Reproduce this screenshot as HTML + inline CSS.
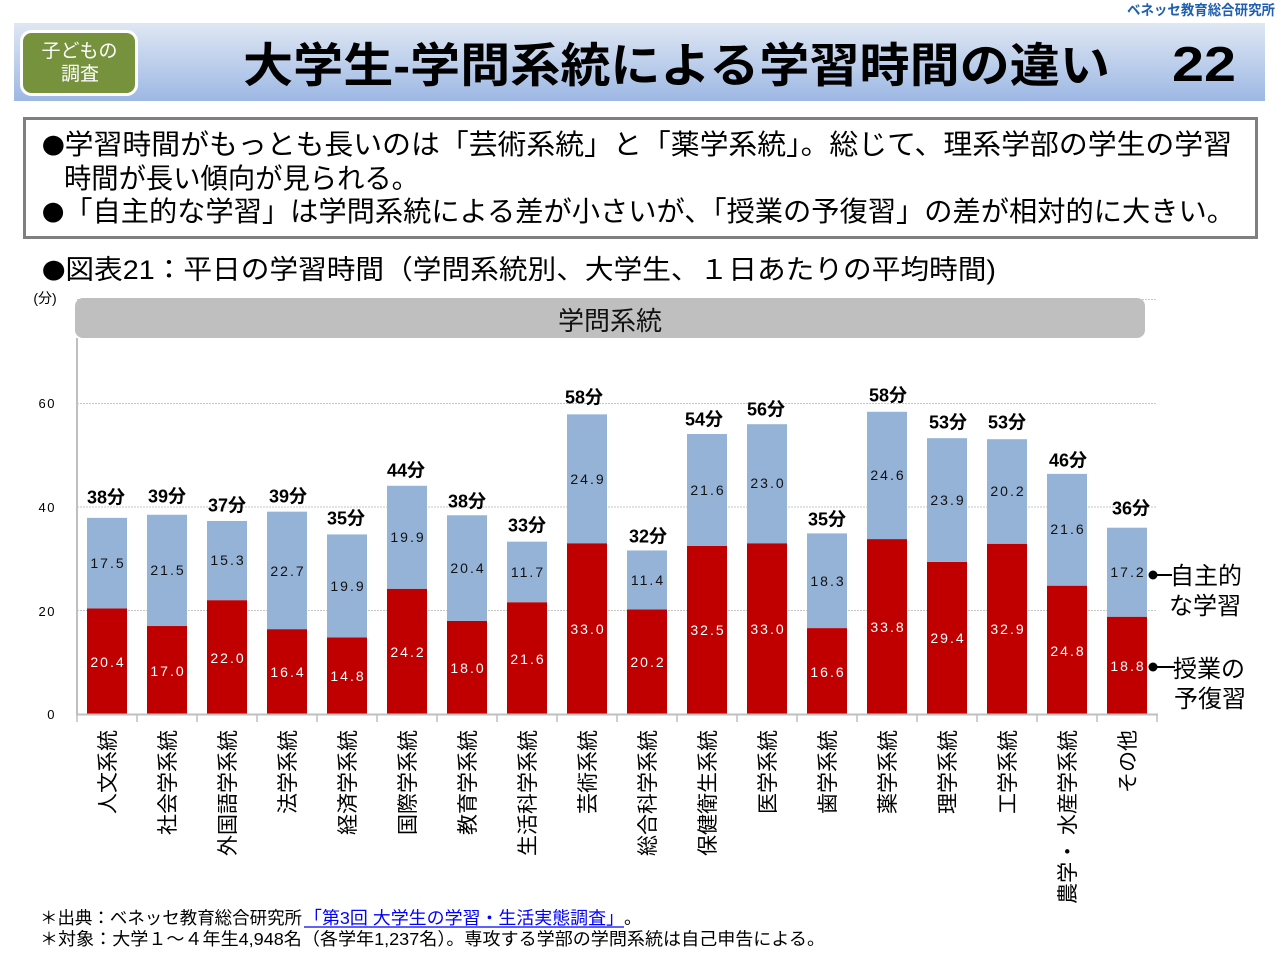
<!DOCTYPE html>
<html>
<head>
<meta charset="utf-8">
<style>
html,body{margin:0;padding:0;background:#fff;}
svg{display:block;}
.jp{font-family:"Liberation Sans","Noto Sans CJK JP",sans-serif;}
.bl{font-family:"Noto Sans CJK JP",sans-serif;font-size:22px;}
.num{font-family:"Liberation Sans","DejaVu Sans",sans-serif;font-size:14px;letter-spacing:2px;}
.tot{font-family:"Liberation Sans","Noto Sans CJK JP",sans-serif;font-size:18px;font-weight:bold;}
.xl{font-family:"Liberation Sans","Noto Sans CJK JP",sans-serif;font-size:21px;}
</style>
</head>
<body>
<svg width="1280" height="960" viewBox="0 0 1280 960" xmlns="http://www.w3.org/2000/svg">
<defs>
<linearGradient id="hg" x1="0" y1="0" x2="0" y2="1">
<stop offset="0" stop-color="#dfe7f3"/>
<stop offset="1" stop-color="#9db8e4"/>
</linearGradient>
</defs>

<!-- header -->
<text class="jp" x="1127" y="15" font-size="14" font-weight="bold" fill="#1f5fb0" textLength="148" lengthAdjust="spacingAndGlyphs">ベネッセ教育総合研究所</text>
<rect x="14" y="23" width="1251" height="78" fill="url(#hg)"/>
<rect x="21.5" y="31.5" width="115" height="63" rx="10" ry="10" fill="#76923c" stroke="#ffffff" stroke-width="3"/>
<text class="jp" x="79.5" y="57" font-size="19" fill="#fff" text-anchor="middle">子どもの</text>
<text class="jp" x="80" y="80" font-size="19" fill="#fff" text-anchor="middle">調査</text>
<text class="jp" x="243" y="82" font-size="47" font-weight="bold" fill="#000" textLength="867" lengthAdjust="spacingAndGlyphs">大学生-学問系統による学習時間の違い</text>
<text x="1172" y="81" font-family="Liberation Sans, sans-serif" font-size="49" font-weight="bold" fill="#000" textLength="64" lengthAdjust="spacingAndGlyphs">22</text>

<!-- summary box -->
<rect x="24.5" y="118.5" width="1232" height="119" fill="#fff" stroke="#7f7f7f" stroke-width="3"/>
<text class="jp" x="42" y="154" font-size="28" fill="#000" textLength="1190" lengthAdjust="spacingAndGlyphs"><tspan class="bl">●</tspan>学習時間がもっとも長いのは「芸術系統」と「薬学系統」。総じて、理系学部の学生の学習</text>
<text class="jp" x="64" y="188" font-size="28" fill="#000" textLength="355" lengthAdjust="spacingAndGlyphs">時間が長い傾向が見られる。</text>
<text class="jp" x="42" y="221" font-size="28" fill="#000" textLength="1193" lengthAdjust="spacingAndGlyphs"><tspan class="bl">●</tspan>「自主的な学習」は学問系統による差が小さいが、「授業の予復習」の差が相対的に大きい。</text>

<!-- chart title -->
<text class="jp" x="42" y="279" font-size="27" fill="#000" textLength="954" lengthAdjust="spacingAndGlyphs"><tspan class="bl">●</tspan>図表21：平日の学習時間（学問系統別、大学生、１日あたりの平均時間)</text>

<!-- chart -->
<text class="jp" x="45" y="303" font-size="14" fill="#000" text-anchor="middle">(分)</text>
<g stroke="#c6c6c6" stroke-width="1" stroke-dasharray="2,1">
<line x1="77" y1="299.5" x2="1157" y2="299.5"/>
<line x1="77" y1="403.5" x2="1157" y2="403.5"/>
<line x1="77" y1="507" x2="1157" y2="507"/>
<line x1="77" y1="610.5" x2="1157" y2="610.5"/>
</g>
<g font-family="Liberation Sans, sans-serif" font-size="13" fill="#000" text-anchor="end" letter-spacing="1.5">
<text x="56" y="408">60</text>
<text x="56" y="512">40</text>
<text x="56" y="616">20</text>
<text x="56" y="719">0</text>
</g>
<rect x="75" y="298" width="1070" height="40" rx="8" ry="8" fill="#bfbfbf"/>
<text class="jp" x="610" y="330" font-size="26" fill="#111" text-anchor="middle">学問系統</text>

<!-- bars -->
<g>
<rect x="87" y="608.43" width="40" height="105.57" fill="#c00000"/><rect x="87" y="517.87" width="40" height="90.56" fill="#95b3d7"/>
<rect x="147" y="626.02" width="40" height="87.98" fill="#c00000"/><rect x="147" y="514.76" width="40" height="111.26" fill="#95b3d7"/>
<rect x="207" y="600.15" width="40" height="113.85" fill="#c00000"/><rect x="207" y="520.97" width="40" height="79.18" fill="#95b3d7"/>
<rect x="267" y="629.13" width="40" height="84.87" fill="#c00000"/><rect x="267" y="511.66" width="40" height="117.47" fill="#95b3d7"/>
<rect x="327" y="637.41" width="40" height="76.59" fill="#c00000"/><rect x="327" y="534.43" width="40" height="102.98" fill="#95b3d7"/>
<rect x="387" y="588.76" width="40" height="125.24" fill="#c00000"/><rect x="387" y="485.78" width="40" height="102.98" fill="#95b3d7"/>
<rect x="447" y="620.85" width="40" height="93.15" fill="#c00000"/><rect x="447" y="515.28" width="40" height="105.57" fill="#95b3d7"/>
<rect x="507" y="602.22" width="40" height="111.78" fill="#c00000"/><rect x="507" y="541.67" width="40" height="60.55" fill="#95b3d7"/>
<rect x="567" y="543.22" width="40" height="170.78" fill="#c00000"/><rect x="567" y="414.36" width="40" height="128.86" fill="#95b3d7"/>
<rect x="627" y="609.46" width="40" height="104.54" fill="#c00000"/><rect x="627" y="550.46" width="40" height="59" fill="#95b3d7"/>
<rect x="687" y="545.81" width="40" height="168.19" fill="#c00000"/><rect x="687" y="434.03" width="40" height="111.78" fill="#95b3d7"/>
<rect x="747" y="543.22" width="40" height="170.78" fill="#c00000"/><rect x="747" y="424.2" width="40" height="119.03" fill="#95b3d7"/>
<rect x="807" y="628.09" width="40" height="85.91" fill="#c00000"/><rect x="807" y="533.39" width="40" height="94.7" fill="#95b3d7"/>
<rect x="867" y="539.08" width="40" height="174.92" fill="#c00000"/><rect x="867" y="411.77" width="40" height="127.31" fill="#95b3d7"/>
<rect x="927" y="561.85" width="40" height="152.15" fill="#c00000"/><rect x="927" y="438.17" width="40" height="123.68" fill="#95b3d7"/>
<rect x="987" y="543.74" width="40" height="170.26" fill="#c00000"/><rect x="987" y="439.2" width="40" height="104.54" fill="#95b3d7"/>
<rect x="1047" y="585.66" width="40" height="128.34" fill="#c00000"/><rect x="1047" y="473.88" width="40" height="111.78" fill="#95b3d7"/>
<rect x="1107" y="616.71" width="40" height="97.29" fill="#c00000"/><rect x="1107" y="527.7" width="40" height="89.01" fill="#95b3d7"/>
</g>

<!-- axes -->
<line x1="77" y1="338" x2="77" y2="715" stroke="#bfbfbf" stroke-width="2"/>
<line x1="76" y1="714.5" x2="1158" y2="714.5" stroke="#bfbfbf" stroke-width="2"/>
<g stroke="#bfbfbf" stroke-width="1.5">
<line x1="77" y1="714" x2="77" y2="722"/><line x1="137" y1="714" x2="137" y2="722"/><line x1="197" y1="714" x2="197" y2="722"/>
<line x1="257" y1="714" x2="257" y2="722"/><line x1="317" y1="714" x2="317" y2="722"/><line x1="377" y1="714" x2="377" y2="722"/>
<line x1="437" y1="714" x2="437" y2="722"/><line x1="497" y1="714" x2="497" y2="722"/><line x1="557" y1="714" x2="557" y2="722"/>
<line x1="617" y1="714" x2="617" y2="722"/><line x1="677" y1="714" x2="677" y2="722"/><line x1="737" y1="714" x2="737" y2="722"/>
<line x1="797" y1="714" x2="797" y2="722"/><line x1="857" y1="714" x2="857" y2="722"/><line x1="917" y1="714" x2="917" y2="722"/>
<line x1="977" y1="714" x2="977" y2="722"/><line x1="1037" y1="714" x2="1037" y2="722"/><line x1="1097" y1="714" x2="1097" y2="722"/>
<line x1="1157" y1="714" x2="1157" y2="722"/>
</g>

<!-- value labels: blue (dark) -->
<g class="num" fill="#111" text-anchor="middle">
<text x="108" y="568">17.5</text>
<text x="168" y="575">21.5</text>
<text x="228" y="565">15.3</text>
<text x="288" y="576">22.7</text>
<text x="348" y="591">19.9</text>
<text x="408" y="542">19.9</text>
<text x="468" y="573">20.4</text>
<text x="528" y="577">11.7</text>
<text x="588" y="484">24.9</text>
<text x="648" y="585">11.4</text>
<text x="708" y="495">21.6</text>
<text x="768" y="488">23.0</text>
<text x="828" y="586">18.3</text>
<text x="888" y="480">24.6</text>
<text x="948" y="505">23.9</text>
<text x="1008" y="496">20.2</text>
<text x="1068" y="534">21.6</text>
<text x="1128" y="577">17.2</text>
</g>
<!-- value labels: red (white) -->
<g class="num" fill="#fff" text-anchor="middle">
<text x="108" y="667">20.4</text>
<text x="168" y="676">17.0</text>
<text x="228" y="663">22.0</text>
<text x="288" y="677">16.4</text>
<text x="348" y="681">14.8</text>
<text x="408" y="657">24.2</text>
<text x="468" y="673">18.0</text>
<text x="528" y="664">21.6</text>
<text x="588" y="634">33.0</text>
<text x="648" y="667">20.2</text>
<text x="708" y="635">32.5</text>
<text x="768" y="634">33.0</text>
<text x="828" y="677">16.6</text>
<text x="888" y="632">33.8</text>
<text x="948" y="643">29.4</text>
<text x="1008" y="634">32.9</text>
<text x="1068" y="656">24.8</text>
<text x="1128" y="671">18.8</text>
</g>

<!-- totals -->
<g class="tot" fill="#000" text-anchor="middle">
<text x="106" y="503.5">38分</text>
<text x="167" y="502.5">39分</text>
<text x="227" y="511.5">37分</text>
<text x="288" y="502.5">39分</text>
<text x="346" y="524.5">35分</text>
<text x="406" y="476.5">44分</text>
<text x="467" y="507.5">38分</text>
<text x="527" y="531.5">33分</text>
<text x="584" y="403.5">58分</text>
<text x="648" y="542.5">32分</text>
<text x="704" y="425.5">54分</text>
<text x="766" y="415.5">56分</text>
<text x="827" y="525.5">35分</text>
<text x="888" y="401.5">58分</text>
<text x="948" y="428.5">53分</text>
<text x="1007" y="428.5">53分</text>
<text x="1068" y="466.5">46分</text>
<text x="1131" y="514.5">36分</text>
</g>

<!-- legend -->
<circle cx="1153" cy="575" r="4.5" fill="#000"/>
<line x1="1153" y1="575" x2="1172" y2="575" stroke="#000" stroke-width="2"/>
<text class="jp" x="1170" y="584" font-size="24" fill="#000">自主的</text>
<text class="jp" x="1169" y="614" font-size="24" fill="#000">な学習</text>
<circle cx="1153" cy="667" r="4.5" fill="#000"/>
<line x1="1153" y1="667" x2="1175" y2="667" stroke="#000" stroke-width="2"/>
<text class="jp" x="1173" y="677" font-size="24" fill="#000">授業の</text>
<text class="jp" x="1174" y="707" font-size="24" fill="#000">予復習</text>

<!-- x labels -->
<g class="xl" fill="#000" text-anchor="end">
<text transform="translate(107,730) rotate(-90)" x="0" y="8">人文系統</text>
<text transform="translate(167,730) rotate(-90)" x="0" y="8">社会学系統</text>
<text transform="translate(227,730) rotate(-90)" x="0" y="8">外国語学系統</text>
<text transform="translate(287,730) rotate(-90)" x="0" y="8">法学系統</text>
<text transform="translate(347,730) rotate(-90)" x="0" y="8">経済学系統</text>
<text transform="translate(407,730) rotate(-90)" x="0" y="8">国際学系統</text>
<text transform="translate(467,730) rotate(-90)" x="0" y="8">教育学系統</text>
<text transform="translate(527,730) rotate(-90)" x="0" y="8">生活科学系統</text>
<text transform="translate(587,730) rotate(-90)" x="0" y="8">芸術系統</text>
<text transform="translate(647,730) rotate(-90)" x="0" y="8">総合科学系統</text>
<text transform="translate(707,730) rotate(-90)" x="0" y="8">保健衛生系統</text>
<text transform="translate(767,730) rotate(-90)" x="0" y="8">医学系統</text>
<text transform="translate(827,730) rotate(-90)" x="0" y="8">歯学系統</text>
<text transform="translate(887,730) rotate(-90)" x="0" y="8">薬学系統</text>
<text transform="translate(947,730) rotate(-90)" x="0" y="8">理学系統</text>
<text transform="translate(1007,730) rotate(-90)" x="0" y="8">工学系統</text>
<text transform="translate(1067,730) rotate(-90)" x="0" y="8">農学・ 水産学系統</text>
<text transform="translate(1127,730) rotate(-90)" x="0" y="8">その他</text>
</g>

<!-- footer -->
<text class="jp" x="40" y="924" font-size="17.5" fill="#000" textLength="262" lengthAdjust="spacingAndGlyphs">＊出典：ベネッセ教育総合研究所</text>
<text class="jp" x="304" y="924" font-size="17.5" fill="#0000ff" textLength="320" lengthAdjust="spacingAndGlyphs">「第3回 大学生の学習・生活実態調査」</text>
<line x1="304" y1="927" x2="624" y2="927" stroke="#0000ff" stroke-width="1.2"/>
<text class="jp" x="624" y="924" font-size="17.5" fill="#000">。</text>
<text class="jp" x="40" y="945" font-size="17.5" fill="#000" textLength="785" lengthAdjust="spacingAndGlyphs">＊対象：大学１～４年生4,948名（各学年1,237名）。専攻する学部の学問系統は自己申告による。</text>
</svg>
</body>
</html>
